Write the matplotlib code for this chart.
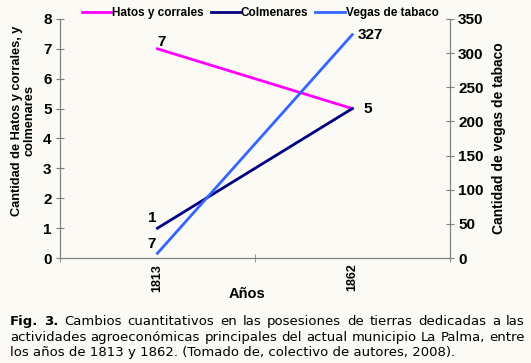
import numpy as np
import matplotlib.pyplot as plt

years = ['1813', '1862']
hatos = [7, 5]
colmenares = [1, 5]
vegas = [7, 327]

bg = '#fbfaf5'
plt.rcParams['font.family'] = ['Liberation Sans', 'DejaVu Sans']

fig = plt.figure(figsize=(5.31, 3.63), dpi=100, facecolor=bg)
ax = fig.add_axes([0.113, 0.289, 0.734, 0.659])
ax.set_facecolor(bg)
ax2 = ax.twinx()

x = np.arange(len(years))
l1, = ax.plot(x, hatos, color='#ff00ff', lw=2, label='Hatos y corrales')
l2, = ax.plot(x, colmenares, color='#000080', lw=2, label='Colmenares')
l3, = ax2.plot(x, vegas, color='#3366ff', lw=2, label='Vegas de tabaco')

ax.set_xlim(-0.5, 1.5)
ax.set_ylim(0, 8)
ax.set_yticks(range(0, 9))
ax2.set_ylim(0, 350)
ax2.set_yticks(range(0, 351, 50))

ax.set_xticks(x)
ax.set_xticklabels(years, rotation=90, fontsize=9, fontweight='bold')
ax.set_xticks([-0.5, 0.5, 1.5], minor=True)
ax.tick_params(axis='x', which='major', length=0, pad=4)
ax.tick_params(axis='x', which='minor', length=6, direction='inout', color='#808080')
ax.tick_params(axis='y', labelsize=11, length=6, direction='inout', width=0.8, pad=3,
               color='#808080')
ax2.tick_params(axis='y', labelsize=11, length=6, direction='inout', width=0.8, pad=3,
                color='#808080')
for t in ax.get_yticklabels() + ax2.get_yticklabels():
    t.set_fontweight('bold')

for a in (ax, ax2):
    a.spines['top'].set_visible(False)
    for s in ('left', 'right', 'bottom'):
        a.spines[s].set_color('#808080')

ax.set_xlabel('Años', fontsize=10.5, fontweight='bold')
ax.xaxis.set_label_coords(0.48, -0.122)
ax.set_ylabel('Cantidad de Hatos y corrales, y\ncolmenares', fontsize=9.2,
              fontweight='bold', linespacing=1.1)
ax.yaxis.set_label_coords(-0.062, 0.575)
ax2.set_ylabel('Cantidad de vegas de tabaco', fontsize=10, fontweight='bold')
ax2.yaxis.set_label_coords(1.108, 0.5)

ax.annotate(str(hatos[0]), (x[0], hatos[0]), xytext=(0, 0), textcoords='offset points',
            fontsize=11, fontweight='bold', ha='left', va='bottom')
ax.annotate(str(hatos[1]), (x[1], hatos[1]), xytext=(8, 0), textcoords='offset points',
            fontsize=11, fontweight='bold', ha='left', va='center')
ax.annotate(str(colmenares[0]), (x[0], colmenares[0]), xytext=(-1, 2), textcoords='offset points',
            fontsize=11, fontweight='bold', ha='right', va='bottom')
ax2.annotate(str(vegas[0]), (x[0], vegas[0]), xytext=(-1, 2), textcoords='offset points',
             fontsize=11, fontweight='bold', ha='right', va='bottom')
ax2.annotate(str(vegas[1]), (x[1], vegas[1]), xytext=(4, 0), textcoords='offset points',
             fontsize=11, fontweight='bold', ha='left', va='center')

leg = fig.legend(handles=[l1, l2, l3], loc='center', bbox_to_anchor=(0.49, 0.964), ncol=3,
                 frameon=False, handlelength=2.5, handletextpad=0.05,
                 columnspacing=0.6, prop={'weight': 'bold', 'size': 8.5})

# caption, first two lines justified
cap_font = dict(fontsize=9.5, family='DejaVu Sans', va='baseline', ha='left')
cap_y = 0.104
cap_left, cap_right = 0.019, 0.988
cap_lines = ['Fig. 3. Cambios cuantitativos en las posesiones de tierras dedicadas a las',
             'actividades agroeconómicas principales del actual municipio La Palma, entre',
             'los años de 1813 y 1862. (Tomado de, colectivo de autores, 2008).']
bold_words = {(0, 0), (0, 1)}

fig.canvas.draw()
r = fig.canvas.get_renderer()
W = fig.bbox.width
for i, line in enumerate(cap_lines):
    y = cap_y - i * 0.043
    if i == len(cap_lines) - 1:
        fig.text(cap_left, y, line, **cap_font)
        continue
    words = line.split(' ')
    texts = [fig.text(0, y, w, fontweight='bold' if (i, j) in bold_words else 'normal',
                      **cap_font) for j, w in enumerate(words)]
    widths = [t.get_window_extent(r).width / W for t in texts]
    gap = (cap_right - cap_left - sum(widths)) / (len(words) - 1)
    pos = cap_left
    for t, w in zip(texts, widths):
        t.set_x(pos)
        pos += w + gap

fig.savefig('out.png', dpi=100, facecolor=bg)
